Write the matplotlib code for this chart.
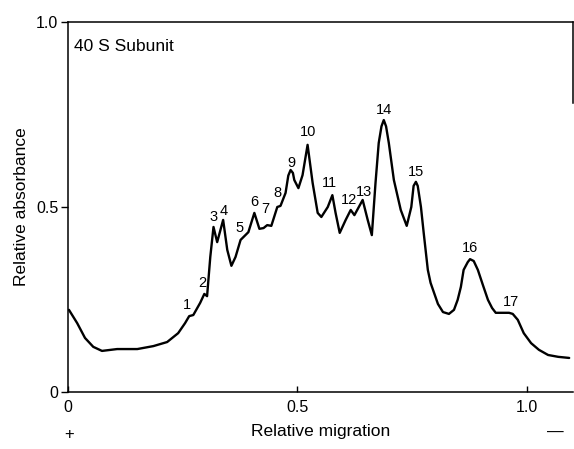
import numpy as np
import matplotlib
matplotlib.use("Agg")
import matplotlib.pyplot as plt

plt.rcParams['font.family'] = ['Liberation Sans', 'DejaVu Sans']

# densitometer trace
migration = [0.002, 0.020, 0.037, 0.055, 0.074, 0.107, 0.151, 0.186, 0.216, 0.240,
             0.255, 0.264, 0.273, 0.288, 0.297, 0.303, 0.310, 0.317, 0.325, 0.338,
             0.347, 0.356, 0.365, 0.376, 0.393, 0.406, 0.417, 0.426, 0.434, 0.443,
             0.456, 0.463, 0.474, 0.480, 0.485, 0.490, 0.493, 0.502, 0.511, 0.522,
             0.533, 0.544, 0.552, 0.566, 0.576, 0.583, 0.592, 0.605, 0.616, 0.624,
             0.642, 0.653, 0.662, 0.670, 0.677, 0.683, 0.688, 0.693, 0.699, 0.710,
             0.725, 0.738, 0.748, 0.753, 0.758, 0.762, 0.769, 0.775, 0.784, 0.790,
             0.806, 0.817, 0.830, 0.841, 0.849, 0.856, 0.862, 0.871, 0.876, 0.884,
             0.893, 0.904, 0.915, 0.924, 0.932, 0.948, 0.961, 0.969, 0.980, 0.993,
             1.009, 1.026, 1.046, 1.068, 1.092]
absorbance = [0.222, 0.186, 0.146, 0.122, 0.111, 0.116, 0.116, 0.124, 0.135, 0.159,
              0.186, 0.205, 0.208, 0.241, 0.265, 0.259, 0.365, 0.446, 0.405, 0.465,
              0.384, 0.341, 0.365, 0.411, 0.432, 0.484, 0.441, 0.443, 0.451, 0.449,
              0.500, 0.503, 0.538, 0.585, 0.600, 0.592, 0.573, 0.551, 0.586, 0.668,
              0.565, 0.484, 0.473, 0.500, 0.532, 0.484, 0.430, 0.465, 0.492, 0.478,
              0.519, 0.465, 0.424, 0.565, 0.673, 0.718, 0.735, 0.718, 0.673, 0.573,
              0.492, 0.449, 0.500, 0.557, 0.568, 0.557, 0.500, 0.430, 0.330, 0.295,
              0.238, 0.216, 0.211, 0.222, 0.249, 0.284, 0.330, 0.351, 0.359, 0.354,
              0.330, 0.289, 0.249, 0.227, 0.214, 0.214, 0.214, 0.211, 0.195, 0.159,
              0.132, 0.114, 0.100, 0.095, 0.092]

# band numbers and where they sit
band_labels = [str(i) for i in range(1, 18)]
band_x = [0.260, 0.293, 0.317, 0.340, 0.374, 0.406, 0.430, 0.456, 0.487, 0.522,
          0.570, 0.613, 0.644, 0.688, 0.758, 0.876, 0.965]
band_y = [0.235, 0.295, 0.473, 0.490, 0.443, 0.514, 0.494, 0.538, 0.620, 0.703,
          0.565, 0.519, 0.540, 0.762, 0.595, 0.390, 0.243]

fig = plt.figure(figsize=(5.74, 4.49), dpi=100)
ax = fig.add_axes([0.1185, 0.127, 0.8795, 0.824])

ax.plot(migration, absorbance, color='black', lw=1.7,
        solid_joinstyle='round', solid_capstyle='round')

for lab, bx, by in zip(band_labels, band_x, band_y):
    ax.text(bx, by, lab, ha='center', va='center', fontsize=10.5)

ax.text(0.012, 0.935, "40 S Subunit", ha='left', va='center', fontsize=12.5)

ax.set_xlim(0, 1.10)
ax.set_ylim(0, 1.0)
ax.set_xticks([0, 0.5, 1.0])
ax.set_xticklabels(["0", "0.5", "1.0"], fontsize=11.5)
ax.set_yticks([0, 0.5, 1.0])
ax.set_yticklabels(["0", "0.5", "1.0"], fontsize=11.5)
ax.tick_params(axis='x', direction='in', length=4, width=1, pad=6)
ax.tick_params(axis='y', direction='out', length=5, width=1, pad=2)

for s in ax.spines.values():
    s.set_linewidth(1.1)
ax.spines['right'].set_bounds(0.78, 1.0)

ax.set_xlabel("Relative migration", fontsize=12.5, labelpad=6)
ax.set_ylabel("Relative absorbance", fontsize=12.5, labelpad=5)

fig.text(0.120, 0.033, "+", ha='center', va='center', fontsize=12)
fig.text(0.967, 0.038, "\u2014", ha='center', va='center', fontsize=12)

fig.savefig("out.png", dpi=100)
